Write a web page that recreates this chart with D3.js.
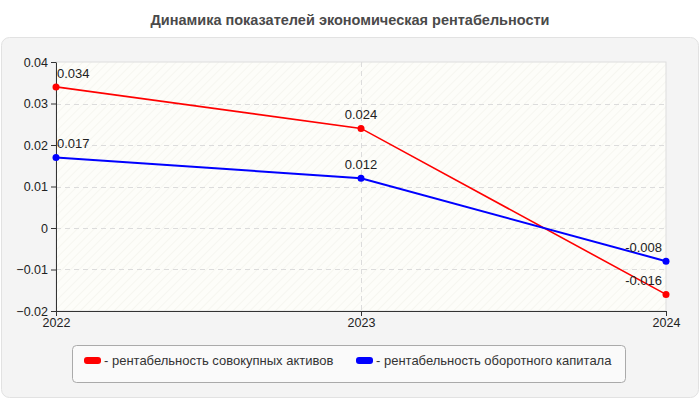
<!DOCTYPE html>
<html>
<head>
<meta charset="utf-8">
<script src="https://cdn.jsdelivr.net/npm/d3@7"></script>
<style>
  body { margin: 0; background: #fff; }
  svg { display: block; font-family: "Liberation Sans", Arial, sans-serif; }
</style>
</head>
<body>
<div id="chart"></div>
<script>
const years = ['2022', '2023', '2024'];
const assets = [0.034, 0.024, -0.016];
const capital = [0.017, 0.012, -0.008];
const yTicks = [0.04, 0.03, 0.02, 0.01, 0, -0.01, -0.02];
const seriesNames = ['- рентабельность совокупных активов', '- рентабельность оборотного капитала'];
const seriesColors = ['#ff0000', '#0000ff'];

const width = 700;
const height = 400;
const plot = { left: 56, right: 666, top: 62, bottom: 311 };

const svg = d3
  .select('#chart')
  .append('svg')
  .attr('width', width)
  .attr('height', height);

/* Background
-----------------------------------------------------------------------------*/
const defs = svg.append('defs');
const hatch = defs
  .append('pattern')
  .attr('id', 'hatch')
  .attr('width', 6)
  .attr('height', 6)
  .attr('patternUnits', 'userSpaceOnUse')
  .attr('patternTransform', 'rotate(45)');
hatch.append('rect').attr('width', 6).attr('height', 6).attr('fill', '#fdfdf9');
hatch
  .append('line')
  .attr('x1', 0)
  .attr('y1', 0)
  .attr('x2', 0)
  .attr('y2', 6)
  .attr('stroke', '#efefe8')
  .attr('stroke-width', 1);

svg
  .append('rect')
  .attr('x', 1.5)
  .attr('y', 37.5)
  .attr('width', 697)
  .attr('height', 360)
  .attr('rx', 8)
  .attr('fill', '#f4f4f4')
  .attr('stroke', '#e2e2e2');

svg
  .append('text')
  .attr('x', width / 2)
  .attr('y', 25)
  .attr('text-anchor', 'middle')
  .attr('font-size', 14.5)
  .attr('font-weight', 'bold')
  .attr('fill', '#4a4a4a')
  .text('Динамика показателей экономическая рентабельности');

svg
  .append('rect')
  .attr('x', plot.left)
  .attr('y', plot.top)
  .attr('width', plot.right - plot.left)
  .attr('height', plot.bottom - plot.top)
  .attr('fill', 'url(#hatch)')
  .attr('stroke', '#dddddd');

/* Scales
-----------------------------------------------------------------------------*/
const x = d3.scalePoint().domain(years).range([plot.left, plot.right]);
const y = d3.scaleLinear().domain([-0.02, 0.04]).range([plot.bottom, plot.top]);

/* Grid
-----------------------------------------------------------------------------*/
const grid = svg.append('g').attr('stroke', '#dcdcdc').attr('stroke-dasharray', '5,4');
grid
  .selectAll('line.h')
  .data(yTicks.filter((t) => t > -0.02 && t < 0.04))
  .join('line')
  .attr('class', 'h')
  .attr('x1', plot.left)
  .attr('x2', plot.right)
  .attr('y1', (d) => Math.round(y(d)) + 0.5)
  .attr('y2', (d) => Math.round(y(d)) + 0.5);
grid
  .selectAll('line.v')
  .data(years.slice(1, -1))
  .join('line')
  .attr('class', 'v')
  .attr('y1', plot.top)
  .attr('y2', plot.bottom)
  .attr('x1', (d) => Math.round(x(d)) + 0.5)
  .attr('x2', (d) => Math.round(x(d)) + 0.5);

/* Axes
-----------------------------------------------------------------------------*/
const yAxis = svg
  .append('g')
  .attr('transform', `translate(${plot.left},0)`)
  .call(
    d3
      .axisLeft(y)
      .tickValues(yTicks)
      .tickSize(5)
      .tickSizeOuter(0)
      .tickFormat((d) => (d === 0 ? '0' : d3.format('.2f')(d)))
  );

const xAxis = svg
  .append('g')
  .attr('transform', `translate(0,${plot.bottom})`)
  .call(d3.axisBottom(x).tickSize(5).tickSizeOuter(0));

[yAxis, xAxis].forEach((axis) => {
  axis.select('.domain').attr('stroke', '#333');
  axis.selectAll('.tick line').attr('stroke', '#333');
  axis
    .selectAll('.tick text')
    .attr('font-size', 12.5)
    .attr('fill', '#222')
    .attr('font-family', '"Liberation Sans", Arial, sans-serif');
});
xAxis.selectAll('.tick text').attr('dy', '0.9em').attr('y', 5);
yAxis.selectAll('.tick text').attr('x', -8);

/* Series
-----------------------------------------------------------------------------*/
const line = d3
  .line()
  .x((d, i) => x(years[i]))
  .y((d) => y(d));

[assets, capital].forEach((values, s) => {
  svg
    .append('path')
    .datum(values)
    .attr('fill', 'none')
    .attr('stroke', seriesColors[s])
    .attr('stroke-width', s === 0 ? 1.6 : 2)
    .attr('d', line);

  svg
    .selectAll(null)
    .data(values)
    .join('circle')
    .attr('cx', (d, i) => x(years[i]))
    .attr('cy', (d) => y(d))
    .attr('r', 3.5)
    .attr('fill', seriesColors[s]);

  svg
    .selectAll(null)
    .data(values)
    .join('text')
    .attr('x', (d, i) => x(years[i]) + (i === 0 ? 1 : i === years.length - 1 ? -4 : 0))
    .attr('y', (d) => y(d) - 9)
    .attr('text-anchor', (d, i) => (i === 0 ? 'start' : i === years.length - 1 ? 'end' : 'middle'))
    .attr('font-size', 13)
    .attr('fill', '#222')
    .text((d) => d);
});

/* Legend
-----------------------------------------------------------------------------*/
svg
  .append('rect')
  .attr('x', 72.5)
  .attr('y', 345.5)
  .attr('width', 553)
  .attr('height', 37)
  .attr('rx', 4)
  .attr('fill', '#fafafa')
  .attr('stroke', '#aaaaaa');

const legendX = [84, 356];
seriesNames.forEach((name, s) => {
  svg
    .append('rect')
    .attr('x', legendX[s])
    .attr('y', 357)
    .attr('width', 17)
    .attr('height', 7)
    .attr('rx', 3)
    .attr('fill', seriesColors[s]);
  svg
    .append('text')
    .attr('x', legendX[s] + 20)
    .attr('y', 365)
    .attr('font-size', 13)
    .attr('fill', '#333')
    .text(name);
});
</script>
</body>
</html>
